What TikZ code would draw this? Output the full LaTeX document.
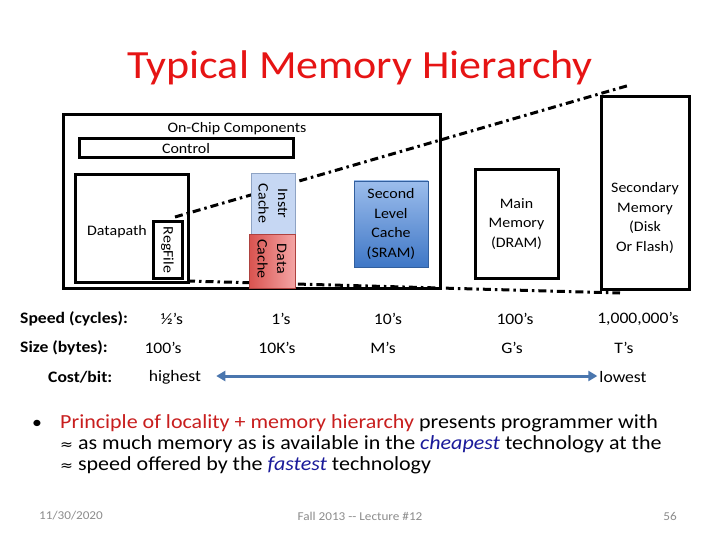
\documentclass[tikz,border=0pt]{standalone}
\usepackage{fontspec}
\setmainfont{Carlito}[FakeStretch=1.1]
\newfontfamily\symfont{DejaVu Sans}[FakeStretch=1.1]
\usetikzlibrary{arrows.meta}
\definecolor{titlered}{HTML}{E61414}
\definecolor{bulletred}{HTML}{C81E1E}
\definecolor{cheapblue}{HTML}{1A1A9A}
\definecolor{arrowblue}{HTML}{4A76AE}
\definecolor{footgrey}{HTML}{8C8C8C}
\definecolor{instrfill}{HTML}{C6D7F3}
\definecolor{instrdraw}{HTML}{8EA3C4}
\definecolor{dataleft}{HTML}{D9534F}
\definecolor{dataright}{HTML}{F4A5A5}
\definecolor{ltop}{HTML}{9CBDEC}
\definecolor{lbot}{HTML}{3F77C6}
\newcommand{\apx}{{\symfont\fontsize{14}{14}\selectfont ≈}}
\begin{document}
\begin{tikzpicture}[x=1pt,y=-1pt,
  boxthick/.style={draw=black,line width=3pt,inner sep=0pt,rectangle},
  boxtext/.style={font=\fontsize{14.5}{19.5}\selectfont,align=center,inner sep=0pt},
  rowlabel/.style={font=\fontsize{16}{19}\selectfont\bfseries,anchor=west,inner sep=0pt},
  rowval/.style={font=\fontsize{16}{19}\selectfont,inner sep=0pt},
  hierline/.style={line width=3pt,dash pattern=on 8pt off 4pt on 2.5pt off 4pt},
  bodytext/.style={font=\fontsize{20}{21}\selectfont,anchor=base west,inner sep=0pt,text height=14pt,text depth=4pt},
  foot/.style={font=\fontsize{12}{14}\selectfont,text=footgrey,inner sep=0pt}]
\useasboundingbox (0,0) rectangle (720,540);
\fill[white] (0,0) rectangle (720,540);

\node[font=\fontsize{40}{48}\selectfont,text=titlered,inner sep=0pt] (title) at (360,68) {Typical Memory Hierarchy};

% on-chip components
\node[boxthick,minimum width=377pt,minimum height=173pt] (onchip) at (251.5,201.5) {};
\node[boxtext] (onchiplbl) at (237,129) {On-Chip Components};
\node[boxthick,minimum width=214pt,minimum height=19pt,boxtext] (control) at (186,148.5) {Control};
\node[boxthick,minimum width=113pt,minimum height=107pt] (datapath) at (131.5,228.5) {};
\node[boxtext] (datapathlbl) at (117,232) {Datapath};
\node[boxthick,minimum width=29pt,minimum height=56pt] (regfile) at (167.5,250) {};
\node[boxtext,rotate=-90] (regfilelbl) at (167.5,250) {RegFile};

% hierarchy lines
\coordinate (upA) at (175,217);
\coordinate (upB) at (630,85);
\coordinate (loA) at (187,281);
\coordinate (loB) at (620,293);
\draw[hierline] (upA) -- (upB);
\draw[hierline] (loA) -- (loB);

% caches
\node[draw=instrdraw,fill=instrfill,line width=0.8pt,minimum width=44pt,minimum height=61pt,inner sep=0pt] (icache) at (273,203.5) {};
\node[boxtext,rotate=-90] (icachelbl) at (273,203.5) {Instr\\Cache};
\node[draw=dataleft!80!black,left color=dataleft,right color=dataright,line width=0.5pt,minimum width=46pt,minimum height=54pt,inner sep=0pt] (dcache) at (272,261) {};
\node[boxtext,rotate=-90] (dcachelbl) at (272,259) {Data\\Cache};
\node[draw=lbot!80!black,top color=ltop,bottom color=lbot,line width=0.6pt,minimum width=74pt,minimum height=86pt,boxtext] (l2) at (391,224) {Second\\Level\\Cache\\(SRAM)};

% main and secondary memory
\node[boxthick,minimum width=83pt,minimum height=108pt,boxtext] (mainmem) at (516.5,224) {Main\\Memory\\(DRAM)};
\node[boxthick,minimum width=88pt,minimum height=192pt] (secmem) at (645,193) {};
\node[boxtext] (secmemlbl) at (645,218) {Secondary\\Memory\\(Disk\\Or Flash)};

% rows
\node[rowlabel] (speedlbl) at (20,319) {Speed (cycles):};
\node[rowval] (s1) at (172,319) {½’s};
\node[rowval] (s2) at (281,319) {1’s};
\node[rowval] (s3) at (388,319) {10’s};
\node[rowval] (s4) at (515,319) {100’s};
\node[rowval] (s5) at (638,319) {1,000,000’s};

\node[rowlabel] (sizelbl) at (20,348) {Size (bytes):};
\node[rowval] (z1) at (163,348) {100’s};
\node[rowval] (z2) at (277,348) {10K’s};
\node[rowval] (z3) at (383,348) {M’s};
\node[rowval] (z4) at (512,348) {G’s};
\node[rowval] (z5) at (624,348) {T’s};

\node[rowlabel] (costlbl) at (48,377) {Cost/bit:};
\node[rowval] (hi) at (175,377) {highest};
\node[rowval] (lo) at (623,377) {lowest};
\draw[arrowblue,line width=3pt,{Triangle[length=9pt,width=10pt]}-{Triangle[length=9pt,width=10pt]},shorten <=15pt,shorten >=2pt] ([yshift=1pt]hi.east) -- ([yshift=1pt]lo.west);

% bullet text
\node[font=\fontsize{18}{21}\selectfont,inner sep=0pt,anchor=base] (bullet) at (37,428) {•};
\node[bodytext] (line1) at (60,428) {\textcolor{bulletred}{Principle of locality + memory hierarchy} presents programmer with};
\node[bodytext] (line2) at (60,449) {\apx{} as much memory as is available in the \textcolor{cheapblue}{\textit{cheapest}} technology at the};
\node[bodytext] (line3) at (60,470) {\apx{} speed offered by the \textcolor{cheapblue}{\textit{fastest}} technology};

% footer
\node[foot] (date) at (71,516) {11/30/2020};
\node[foot] (course) at (360,516) {Fall 2013 -{}- Lecture \#12};
\node[foot] (page) at (670,516) {56};
\end{tikzpicture}
\end{document}
